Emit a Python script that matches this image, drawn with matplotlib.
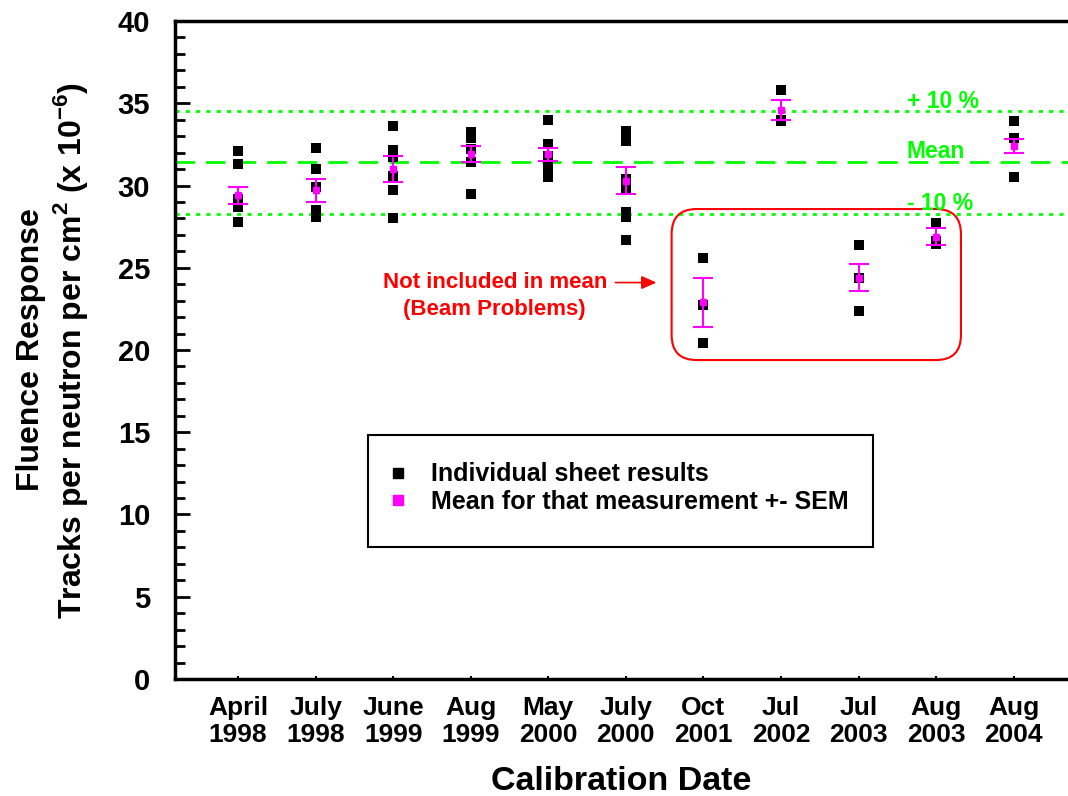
import matplotlib
matplotlib.use("Agg")
import matplotlib.pyplot as plt
import numpy as np
from matplotlib.lines import Line2D
from matplotlib.patches import FancyBboxPatch, Rectangle
from matplotlib.ticker import MultipleLocator

plt.rcParams['font.family'] = ['Liberation Sans', 'DejaVu Sans']
plt.rcParams['font.weight'] = 'bold'
plt.rcParams['axes.labelweight'] = 'bold'
plt.rcParams['mathtext.fontset'] = 'custom'
plt.rcParams['mathtext.bf'] = 'Liberation Sans:bold'
plt.rcParams['mathtext.rm'] = 'Liberation Sans:bold'

# calibration dates
dates = ["April\n1998", "July\n1998", "June\n1999", "Aug\n1999", "May\n2000",
         "July\n2000", "Oct\n2001", "Jul\n2002", "Jul\n2003", "Aug\n2003",
         "Aug\n2004"]

# individual sheet results, one list per calibration
sheets = [
    [32.1, 31.3, 29.2, 28.7, 27.8],
    [32.3, 31.0, 29.9, 28.5, 28.1],
    [33.6, 32.15, 31.75, 30.6, 29.7, 28.0],
    [33.25, 32.9, 32.2, 31.4, 29.5],
    [34.0, 32.5, 31.8, 31.25, 30.9, 30.5],
    [33.3, 32.7, 30.4, 29.8, 28.4, 28.1, 26.7],
    [25.6, 22.75, 20.4],
    [35.8, 34.0, 33.9],
    [26.4, 24.35, 22.4],
    [27.75, 26.6, 26.45],
    [33.9, 32.9, 30.5],
]

# mean for each measurement and its SEM
means = [29.4, 29.7, 31.0, 31.9, 31.9, 30.3, 22.9, 34.6, 24.4, 26.9, 32.4]
sems = [0.5, 0.7, 0.8, 0.5, 0.4, 0.8, 1.5, 0.6, 0.8, 0.5, 0.4]

overall_mean = 31.4
band = 0.10

x = np.arange(1, len(dates) + 1)

fig = plt.figure(figsize=(10.68, 7.96), dpi=100)
ax = fig.add_axes([0.1639, 0.147, 0.8361, 0.8266])

xlim = (0.188, 11.70)
ylim = (0, 40)

# reference lines
ax.axhline(overall_mean, color='#00FF00', lw=2.0, linestyle=(0, (7, 4)), zorder=1)
ax.axhline(overall_mean * (1 + band), color='#00FF00', lw=2.0, linestyle=(0, (1.5, 2.2)), zorder=1)
ax.axhline(overall_mean * (1 - band), color='#00FF00', lw=2.0, linestyle=(0, (1.5, 2.2)), zorder=1)

for xi, vals in zip(x, sheets):
    ax.plot([xi] * len(vals), vals, 's', color='black', markersize=6.5,
            markeredgewidth=0, zorder=3)

ax.errorbar(x, means, yerr=sems, fmt='s', color='#FF00FF', markersize=4.5,
            elinewidth=1.5, capsize=7.2, capthick=1.5, zorder=4)

ax.set_xlim(xlim)
ax.set_ylim(ylim)

# green labels for the lines
ax.text(9.62, 35.08, "+ 10 %", color='#00FF00', fontsize=16.5, ha='left', va='center')
ax.text(9.62, 32.04, "Mean", color='#00FF00', fontsize=16.5, ha='left', va='center')
ax.text(9.62, 28.88, "- 10 %", color='#00FF00', fontsize=16.5, ha='left', va='center')

# red rounded box round the excluded points
ax_w_px = 10.68 * 100 * 0.8361
ax_h_px = 7.96 * 100 * 0.8266
px_x = ax_w_px / (xlim[1] - xlim[0])
px_y = ax_h_px / (ylim[1] - ylim[0])
aspect = px_x / px_y
bx0, bx1 = 6.59, 10.32
by0, by1 = 19.39, 28.57
box = FancyBboxPatch((bx0, by0), bx1 - bx0, by1 - by0,
                     boxstyle="round,pad=0,rounding_size=%f" % (25 / px_x),
                     mutation_aspect=aspect, fill=False, edgecolor='red',
                     lw=1.5, zorder=2)
ax.add_patch(box)

ax.annotate("", xy=(6.43, 24.1), xytext=(5.83, 24.1),
            arrowprops=dict(arrowstyle='-|>,head_length=0.9,head_width=0.4',
                            color='red', lw=1.2))
ax.text(4.31, 24.1, "Not included in mean", color='red', fontsize=16,
        ha='center', va='center')
ax.text(4.31, 22.45, "(Beam Problems)", color='red', fontsize=16,
        ha='center', va='center')

# legend box
ax.add_patch(Rectangle((0.216, 0.2006), 0.566, 0.1704, transform=ax.transAxes,
                       fill=False, edgecolor='black', lw=1.5, zorder=5))
handles = [Line2D([], [], marker='s', color='black', linestyle='none', markersize=6.5),
           Line2D([], [], marker='s', color='#FF00FF', linestyle='none', markersize=6.5)]
ax.legend(handles, ["Individual sheet results", "Mean for that measurement +- SEM"],
          loc='center left', bbox_to_anchor=(0.241, 0.290), frameon=False,
          fontsize=18, borderpad=0, borderaxespad=0, handlelength=0.6,
          handletextpad=1.05, labelspacing=0.15)

# axes styling
ax.spines['right'].set_visible(False)
for s in ['left', 'bottom', 'top']:
    ax.spines[s].set_linewidth(2.5)
ax.yaxis.set_major_locator(MultipleLocator(5))
ax.yaxis.set_minor_locator(MultipleLocator(1))
ax.tick_params(axis='y', which='major', direction='in', length=11, width=2,
               labelsize=21, pad=18)
ax.tick_params(axis='y', which='minor', direction='in', length=7, width=2)
ax.set_xticks(x)
ax.set_xticklabels(dates, fontsize=19, linespacing=1.15)
ax.tick_params(axis='x', direction='in', length=2, width=1.5, pad=12)

ax.set_xlabel("Calibration Date", fontsize=24.5, labelpad=14)
ax.set_ylabel("Fluence Response\nTracks per neutron per cm$^{2}$ (x 10$^{-6}$)",
              fontsize=23, labelpad=20, linespacing=1.15)

plt.savefig('out.png', dpi=100)
